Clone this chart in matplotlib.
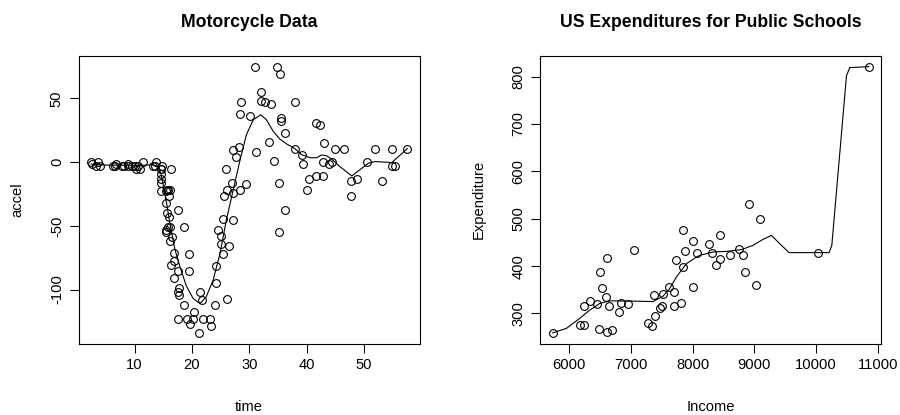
import matplotlib
matplotlib.use("Agg")
import matplotlib.pyplot as plt
import numpy as np

plt.rcParams['font.family'] = ['Liberation Sans', 'DejaVu Sans']

# Motorcycle crash data: time after impact (ms) and head acceleration (g)
mc_time = [2.4, 2.6, 3.2, 3.6, 4.0, 6.2, 6.6, 6.8, 7.8, 8.2,
           8.8, 8.8, 9.6, 10.0, 10.2, 10.6, 11.0, 11.4, 13.2, 13.6,
           13.8, 14.6, 14.6, 14.6, 14.6, 14.6, 14.6, 14.8, 15.4, 15.4,
           15.4, 15.4, 15.6, 15.6, 15.8, 15.8, 16.0, 16.0, 16.2, 16.2,
           16.2, 16.4, 16.4, 16.6, 16.8, 16.8, 16.8, 17.6, 17.6, 17.6,
           17.6, 17.8, 17.8, 18.6, 18.6, 19.2, 19.4, 19.4, 19.6, 20.2,
           20.4, 21.2, 21.4, 21.8, 22.0, 23.2, 23.4, 24.0, 24.2, 24.2,
           24.6, 25.0, 25.0, 25.4, 25.4, 25.6, 26.0, 26.2, 26.2, 26.4,
           27.0, 27.2, 27.2, 27.2, 27.6, 28.2, 28.4, 28.4, 28.6, 29.4,
           30.2, 31.0, 31.2, 32.0, 32.0, 32.8, 33.4, 33.8, 34.4, 34.8,
           35.2, 35.2, 35.4, 35.6, 35.6, 36.2, 36.2, 38.0, 38.0, 39.2,
           39.4, 40.0, 40.4, 41.6, 41.6, 42.4, 42.8, 42.8, 43.0, 44.0,
           44.4, 45.0, 46.6, 47.8, 47.8, 48.8, 50.6, 52.0, 53.2, 55.0,
           55.0, 55.4, 57.6]
mc_accel = [0.0, -1.3, -2.7, 0.0, -2.7, -2.7, -2.7, -1.3, -2.7, -2.7,
            -1.3, -2.7, -2.7, -2.7, -5.4, -2.7, -5.4, 0.0, -2.7, -2.7,
            0.0, -13.3, -5.4, -5.4, -9.3, -16.0, -22.8, -2.7, -22.8, -32.1,
            -53.5, -54.9, -40.2, -21.5, -21.5, -50.8, -42.9, -26.8, -21.5, -50.8,
            -61.7, -5.4, -80.4, -59.0, -71.0, -91.1, -77.7, -37.5, -85.6, -123.1,
            -101.9, -99.1, -104.4, -112.5, -50.8, -123.1, -85.6, -72.3, -127.2, -123.1,
            -117.9, -134.0, -101.9, -108.4, -123.1, -123.1, -128.5, -112.5, -95.1, -81.8,
            -53.5, -64.4, -57.6, -72.3, -44.3, -26.8, -5.4, -107.1, -21.5, -65.6,
            -16.0, -45.6, -24.2, 9.5, 4.0, 12.0, -21.5, 37.5, 46.9, -17.4,
            36.2, 75.0, 8.1, 54.9, 48.2, 46.9, 16.0, 45.6, 1.3, 75.0,
            -16.0, -54.9, 69.6, 34.8, 32.1, -37.5, 22.8, 46.9, 10.7, 5.4,
            -1.3, -21.5, -13.3, 30.8, -10.7, 29.4, 0.0, -10.7, 14.7, -1.3,
            0.0, 10.7, 10.7, -26.8, -14.7, -13.3, 0.0, 10.7, -14.7, -2.7,
            10.7, -2.7, 10.7]

# Nonparametric regression fit for the motorcycle data
mc_fit_time = [2.4, 5.0, 8.0, 11.0, 13.2, 14.0, 14.6, 15.1, 15.6, 16.1,
               17.0, 17.9, 19.0, 20.2, 21.4, 22.5, 23.7, 24.9, 26.0, 27.2,
               28.4, 29.5, 30.7, 32.0, 33.0, 34.2, 35.35, 36.5, 38.0, 39.1,
               40.6, 41.8, 42.6, 43.5, 44.4, 45.8, 47.9, 49.3, 50.8, 52.0,
               54.9, 57.6]
mc_fit_accel = [-1.5, -2.3, -2.4, -2.5, -2.0, -3.5, -9.0, -21.0, -33.0, -47.0,
                -68.0, -82.0, -97.0, -107.0, -111.0, -105.6, -92.5, -71.6, -45.4, -21.8,
                1.8, 21.5, 33.3, 37.2, 33.3, 24.1, 18.1, 14.4, 10.5, 6.0,
                3.5, 3.5, 5.7, 5.0, 2.4, -3.4, -10.8, -6.0, -0.8, 0.5,
                -0.3, 10.7]

# Per-capita public school expenditure and income by state
ps_income = [6247, 10851, 7374, 6183, 8850, 8001, 8914, 8604, 7505, 6700,
             8380, 6813, 8745, 7696, 7873, 8001, 6615, 6640, 6333, 8306,
             8063, 8442, 7847, 5736, 7342, 7051, 7391, 9032, 7277, 8818,
             6505, 8267, 6607, 7478, 7812, 6951, 7839, 7733, 7526, 6242,
             6841, 6489, 7697, 6622, 6541, 7624, 8450, 10022, 6456, 9096]
ps_expend = [275, 821, 339, 275, 387, 452, 531, 424, 316, 265,
             403, 304, 437, 345, 431, 355, 260, 316, 327, 427,
             427, 466, 477, 259, 274, 433, 294, 359, 279, 423,
             388, 447, 335, 311, 322, 320, 397, 412, 342, 315,
             321, 268, 315, 417, 353, 356, 415, 428, 320, 500]

# Nonparametric regression fit for the schools data
ps_fit_income = [5736, 5958, 6174, 6336, 6497, 6659, 7036, 7360, 7522, 7630,
                 7738, 7900, 8062, 8116, 8331, 8547, 8790, 8978, 9140, 9275,
                 9411, 9561, 10208, 10252, 10489, 10542, 10851]
ps_fit_expend = [259, 268.4, 289.5, 307, 321, 326.5, 326, 325, 336.4, 352.6,
                 377, 405, 419, 422.7, 429.7, 431, 434.7, 443.8, 456.4, 464.8,
                 447, 428.4, 428.4, 443.8, 801.7, 819, 821]

FS = 10.6
fig = plt.figure(figsize=(9, 4.15), dpi=100)
W, H = 900.0, 415.0


def make_axes(x0, x1, y0, y1):
    return fig.add_axes([x0 / W, 1 - y1 / H, (x1 - x0) / W, (y1 - y0) / H])


def pad_limits(vals):
    lo, hi = min(vals), max(vals)
    d = (hi - lo) * 0.04
    return lo - d, hi + d


def style(ax, xs, ys, xticks, yticks, title, xlabel, ylabel):
    ax.set_xlim(*pad_limits(xs))
    ax.set_ylim(*pad_limits(ys))
    ax.set_xticks(xticks)
    ax.set_yticks(yticks)
    ax.set_xticklabels([str(t) for t in xticks], fontsize=FS)
    ax.set_yticklabels([str(t) for t in yticks], fontsize=FS,
                       rotation=90, va='center')
    ax.tick_params(direction='out', length=6.5, width=0.75, color='black',
                   pad=4, top=False, right=False)
    for s in ax.spines.values():
        s.set_linewidth(0.8)
        s.set_color('black')
    ax.text(0.5, 1.118, title, transform=ax.transAxes, ha='center',
            va='center', fontsize=12.7, fontweight='bold')
    ax.text(0.5, -0.222, xlabel, transform=ax.transAxes, ha='center',
            va='center', fontsize=FS)
    ax.text(-0.18, 0.5, ylabel, transform=ax.transAxes, ha='center',
            va='center', fontsize=FS, rotation=90)


ax1 = make_axes(78.5, 420.0, 56.0, 343.5)
ax1.plot(mc_time, mc_accel, 'o', mfc='none', mec='black', ms=5.6, mew=0.8)
ax1.plot(mc_fit_time, mc_fit_accel, '-', color='black', lw=0.8)
style(ax1, mc_time, mc_accel, [10, 20, 30, 40, 50], [-100, -50, 0, 50],
      'Motorcycle Data', 'time', 'accel')

ax2 = make_axes(540.0, 881.5, 56.0, 343.5)
ax2.plot(ps_income, ps_expend, 'o', mfc='none', mec='black', ms=5.6, mew=0.8)
ax2.plot(ps_fit_income, ps_fit_expend, '-', color='black', lw=0.8)
style(ax2, ps_income, ps_expend, [6000, 7000, 8000, 9000, 10000, 11000],
      [300, 400, 500, 600, 700, 800],
      'US Expenditures for Public Schools', 'Income', 'Expenditure')

fig.savefig('out.png', dpi=100, facecolor='white')
